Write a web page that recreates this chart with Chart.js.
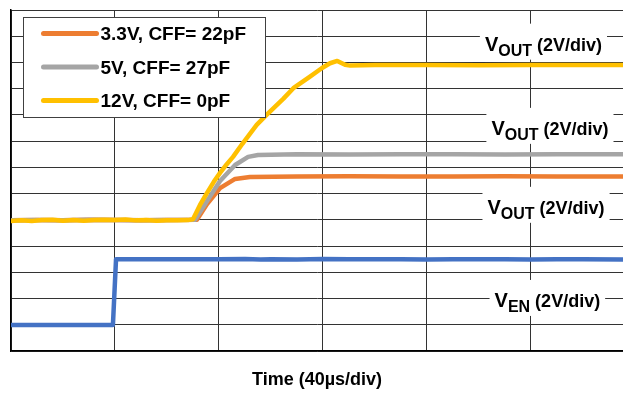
<!DOCTYPE html>
<html>
<head>
<meta charset="utf-8">
<script src="https://cdn.jsdelivr.net/npm/chart.js@4.4.1/dist/chart.umd.min.js"></script>
<style>
  html, body { margin: 0; padding: 0; background: #fff; }
  #wrap { width: 623px; height: 393px; position: relative; }
</style>
</head>
<body>
<div id="wrap"><canvas id="c" width="623" height="393"></canvas></div>
<script>
// ---- data (time in µs, amplitude in scope divisions) ----
const seriesLabels = ['3.3V, CFF= 22pF', '5V, CFF= 27pF', '12V, CFF= 0pF'];
const xTitle = 'Time (40µs/div)';

const time12V = [0, 4, 8, 12, 16, 20, 24, 28, 32, 36, 40, 44, 48, 52, 56, 60, 64, 68, 70, 72.7, 75.4, 78, 80.4, 83, 85.4, 89, 94.5, 98.3, 100.9, 104.8, 108.6, 115, 119.5, 122.7, 125.5, 128.5, 130.4, 140, 160, 180, 200, 220, 235.4];
const vout12V = [4.96, 4.98, 4.96, 4.99, 5.00, 4.97, 4.99, 4.97, 4.99, 5.00, 4.99, 5.01, 4.98, 4.99, 4.97, 4.98, 4.98, 4.99, 5.02, 5.57, 6.03, 6.45, 6.79, 7.12, 7.40, 7.90, 8.62, 9.00, 9.25, 9.62, 10.02, 10.46, 10.78, 10.97, 11.06, 10.91, 10.88, 10.90, 10.90, 10.89, 10.90, 10.90, 10.90];

const time5V = [0, 10, 20, 30, 40, 50, 60, 70.8, 75.4, 80.4, 86.2, 91.2, 95.0, 110, 130, 150, 170, 190, 210, 235.4];
const vout5V = [4.98, 4.99, 4.98, 5.00, 4.99, 4.98, 4.99, 5.00, 5.72, 6.48, 7.09, 7.40, 7.47, 7.50, 7.49, 7.50, 7.50, 7.49, 7.50, 7.50];

const time3V3 = [0, 10, 20, 30, 40, 50, 60, 71.5, 75.4, 80.4, 86.2, 91.9, 110, 130, 150, 170, 190, 210, 235.4];
const vout3V3 = [4.98, 4.99, 4.98, 5.00, 4.99, 4.98, 4.99, 5.00, 5.60, 6.21, 6.56, 6.63, 6.65, 6.66, 6.65, 6.65, 6.66, 6.65, 6.65];

const timeEN = [0, 39.2, 40.4, 50, 65, 80, 90, 96, 100, 110, 120, 130, 140, 150, 160, 170, 180, 190, 200, 210, 220, 235.4];
const ven = [0.99, 0.99, 3.50, 3.50, 3.50, 3.50, 3.51, 3.49, 3.50, 3.49, 3.51, 3.50, 3.50, 3.50, 3.49, 3.50, 3.50, 3.50, 3.49, 3.50, 3.50, 3.49];

// trace labels: main letter, subscript, rest, anchor (µs, div)
const traceLabelMain = ['V', 'V', 'V', 'V'];
const traceLabelSub = ['OUT', 'OUT', 'OUT', 'EN'];
const traceLabelRest = [' (2V/div)', ' (2V/div)', ' (2V/div)', ' (2V/div)'];
const traceLabelX = [204.8, 207.3, 205.8, 206.3];
const traceLabelY = [11.45, 8.24, 5.23, 1.68];

const xMax = 235.4, xStep = 40, yMax = 13;

function pts(xs, ys) { return xs.map((x, i) => ({ x: x, y: ys[i] })); }

const colors = { c33: '#ED7D31', c5: '#A5A5A5', c12: '#FFC000', en: '#4472C4' };
const FONT = '"Liberation Sans", Arial, sans-serif';

const lineStyle = { borderWidth: 4.5, pointRadius: 0, tension: 0, borderJoinStyle: 'round', borderCapStyle: 'round', fill: false };

const labelPlugin = {
  id: 'traceLabels',
  beforeDatasetsDraw(chart) {
    const ctx = chart.ctx, xs = chart.scales.x, ys = chart.scales.y;
    ctx.save();
    for (let i = 0; i < traceLabelMain.length; i++) {
      const fMain = 'bold 20px ' + FONT, fSub = 'bold 16px ' + FONT, fRest = 'bold 18px ' + FONT;
      ctx.font = fMain; const wM = ctx.measureText(traceLabelMain[i]).width;
      ctx.font = fSub; const wS = ctx.measureText(traceLabelSub[i]).width;
      ctx.font = fRest; const wR = ctx.measureText(traceLabelRest[i]).width;
      const w = wM + wS + wR;
      const cx = xs.getPixelForValue(traceLabelX[i]);
      const by = ys.getPixelForValue(traceLabelY[i]);
      const x0 = cx - w / 2;
      ctx.fillStyle = '#fff';
      ctx.fillRect(x0 - 5, by - 27, w + 10, 36);
      ctx.fillStyle = '#000';
      ctx.textBaseline = 'alphabetic';
      ctx.textAlign = 'left';
      ctx.font = fMain; ctx.fillText(traceLabelMain[i], x0, by);
      ctx.font = fSub; ctx.fillText(traceLabelSub[i], x0 + wM, by + 5);
      ctx.font = fRest; ctx.fillText(traceLabelRest[i], x0 + wM + wS, by);
    }
    ctx.restore();
  },
  afterDraw(chart) {
    // legend box
    const ctx = chart.ctx, a = chart.chartArea;
    const bx = a.left + 12.5, by = a.top + 7.5, bw = 242, bh = 100;
    ctx.save();
    ctx.fillStyle = '#fff';
    ctx.fillRect(bx, by, bw, bh);
    ctx.strokeStyle = '#404040';
    ctx.lineWidth = 1;
    ctx.strokeRect(bx, by, bw, bh);
    const order = [2, 1, 0]; // dataset indices for 3.3V, 5V, 12V
    ctx.font = 'bold 19px ' + FONT;
    ctx.textBaseline = 'alphabetic';
    ctx.textAlign = 'left';
    for (let k = 0; k < 3; k++) {
      const ds = chart.data.datasets[order[k]];
      const yy = by + 16 + k * 33.5;
      ctx.strokeStyle = ds.borderColor;
      ctx.lineWidth = 5;
      ctx.lineCap = 'round';
      ctx.beginPath();
      ctx.moveTo(bx + 20, yy);
      ctx.lineTo(bx + 73, yy);
      ctx.stroke();
      ctx.fillStyle = '#000';
      ctx.fillText(ds.label, bx + 77, yy + 6.8);
    }
    ctx.restore();
  }
};

new Chart(document.getElementById('c'), {
  type: 'line',
  data: {
    datasets: [
      Object.assign({ label: seriesLabels[2], data: pts(time12V, vout12V), borderColor: colors.c12 }, lineStyle),
      Object.assign({ label: seriesLabels[1], data: pts(time5V, vout5V), borderColor: colors.c5 }, lineStyle),
      Object.assign({ label: seriesLabels[0], data: pts(time3V3, vout3V3), borderColor: colors.c33 }, lineStyle),
      Object.assign({ label: 'EN', data: pts(timeEN, ven), borderColor: colors.en }, lineStyle)
    ]
  },
  options: {
    responsive: false,
    animation: false,
    events: [],
    layout: { padding: { left: 11, top: 10, right: 0, bottom: 0 } },
    plugins: { legend: { display: false }, tooltip: { enabled: false } },
    scales: {
      x: {
        type: 'linear', min: 0, max: xMax,
        ticks: { display: false, stepSize: xStep, includeBounds: false },
        grid: { color: '#333', lineWidth: 1, drawTicks: false },
        border: { color: '#000', width: 1.5 },
        title: { display: true, text: xTitle, color: '#000', font: { family: FONT, size: 18, weight: 'bold' }, padding: { top: 18.7, bottom: 1.7 } }
      },
      y: {
        type: 'linear', min: 0, max: yMax,
        ticks: { display: false, stepSize: 1 },
        grid: { color: '#333', lineWidth: 1, drawTicks: false },
        border: { color: '#000', width: 1.5 }
      }
    }
  },
  plugins: [labelPlugin]
});
</script>
</body>
</html>
